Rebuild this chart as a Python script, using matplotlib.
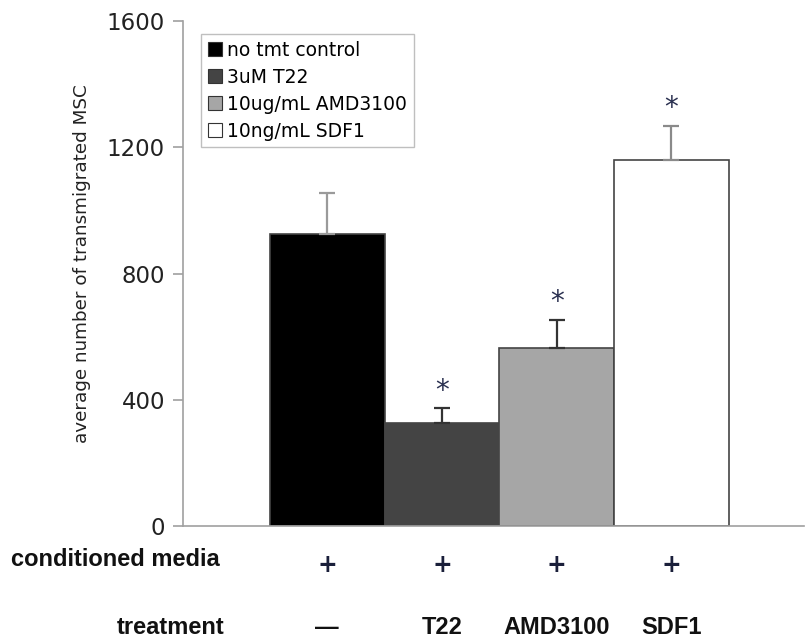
import matplotlib.pyplot as plt

# data
treatments = ["no tmt control", "3uM T22", "10ug/mL AMD3100", "10ng/mL SDF1"]
means = [927, 325, 565, 1160]
errors = [127, 48, 88, 108]
significant = [False, True, True, True]
media_row = ["+", "+", "+", "+"]
treatment_row = ["\u2014", "T22", "AMD3100", "SDF1"]

colors = ["#000000", "#444444", "#a6a6a6", "#ffffff"]
err_colors = ["#9a9a9a", "#333333", "#333333", "#8a8a8a"]
AXIS = "#a0a0a0"

fig = plt.figure(figsize=(8.07, 6.39), dpi=100)
ax = fig.add_axes([0.2268, 0.1768, 0.77, 0.79])

x = list(range(len(means)))
ax.bar(x, means, width=1.0, color=colors, edgecolor="#444444", linewidth=1.2, zorder=2)
for xi, m, e, c in zip(x, means, errors, err_colors):
    ax.errorbar(xi, m, yerr=[[0], [e]], fmt="none", ecolor=c, elinewidth=1.6,
                capsize=5.5, capthick=1.6, zorder=3)
for xi, m, e, s in zip(x, means, errors, significant):
    if s:
        ax.text(xi, m + e + 12, "*", ha="center", va="bottom", fontsize=20,
                color="#2a3050", family="DejaVu Sans")

ax.set_xlim(-1.257, 4.16)
ax.set_ylim(0, 1600)
ax.set_yticks([0, 400, 800, 1200, 1600])
ax.set_xticks([])
for side in ["top", "right"]:
    ax.spines[side].set_visible(False)
for side in ["left", "bottom"]:
    ax.spines[side].set_color(AXIS)
    ax.spines[side].set_linewidth(1.2)
ax.tick_params(axis="y", colors=AXIS, length=7, width=1.2, labelsize=16.5,
               labelcolor="#222222", pad=6)
ax.set_ylabel("average number of transmigrated MSC", fontsize=13.2, color="#222222")
ax.yaxis.set_label_coords(-0.148, 0.519)

handles = [plt.Rectangle((0, 0), 1, 1, facecolor=c, edgecolor="#333333", linewidth=0.8) for c in colors]
leg = ax.legend(handles, treatments, loc="upper left", bbox_to_anchor=(0.029, 0.974),
                frameon=True, fancybox=False, fontsize=13.5, handlelength=0.75, handleheight=0.75,
                handletextpad=0.3, labelspacing=0.42, borderpad=0.35, borderaxespad=0)
leg.get_frame().set_edgecolor("#b0b0b0")
leg.get_frame().set_linewidth(1.0)

# condition rows below the axis
row_font = dict(family="Liberation Sans", fontweight="bold", fontsize=17, color="#111111")
fig.text(11 / 807, 1 - 560 / 639, "conditioned media", ha="left", va="center", **row_font)
fig.text(117 / 807, 1 - 627 / 639, "treatment", ha="left", va="center", **row_font)
for xi, sym in zip(x, media_row):
    ax.annotate(sym, xy=(xi, 0), xycoords=("data", "axes fraction"), xytext=(0, -(565 - 526)),
                textcoords="offset pixels", ha="center", va="center", fontsize=17,
                fontweight="bold", color="#1a1f3a")
for xi, lab in zip(x, treatment_row):
    ax.annotate(lab, xy=(xi, 0), xycoords=("data", "axes fraction"), xytext=(0, -(627 - 526)),
                textcoords="offset pixels", ha="center", va="center", **row_font)

fig.savefig("out.png", dpi=100)
